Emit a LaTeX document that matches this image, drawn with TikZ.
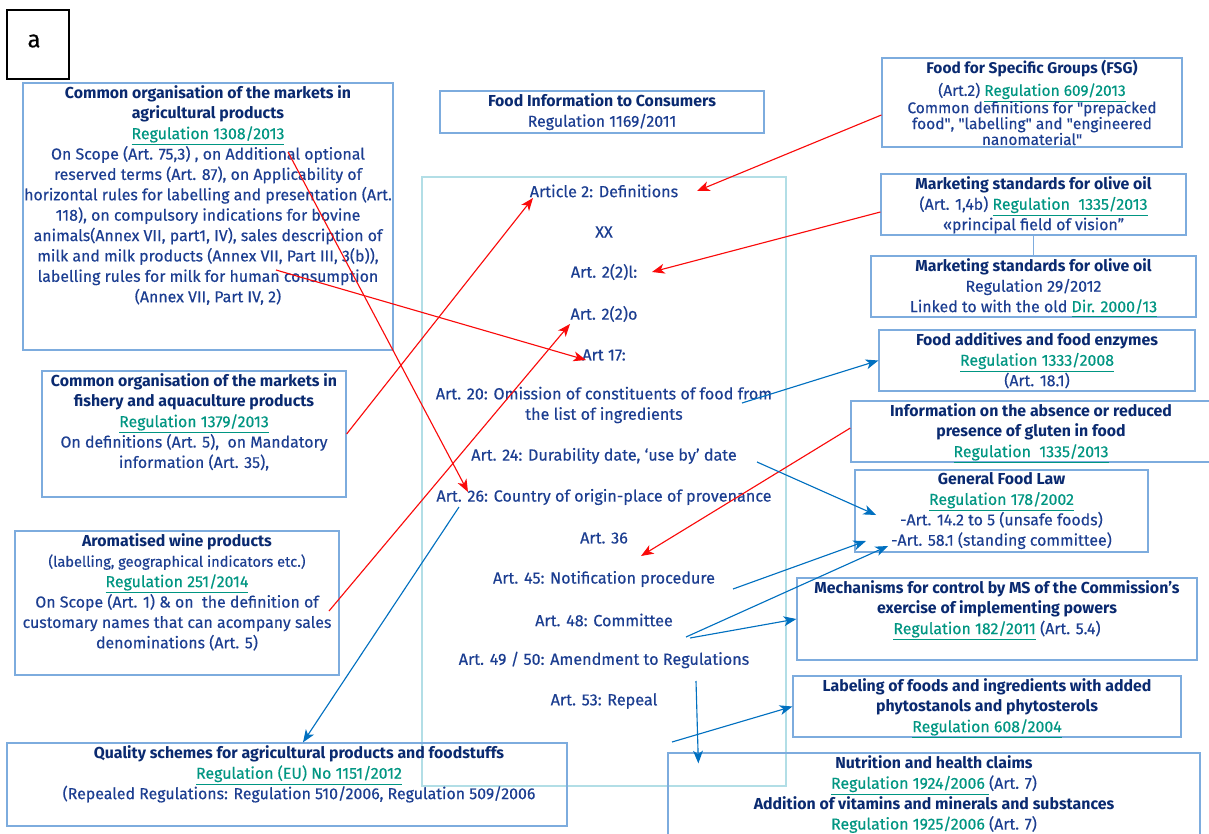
\documentclass[tikz,border=0pt]{standalone}
\usepackage{amsmath}
\usepackage{fontspec}
\setmainfont{Fira Sans}[UprightFeatures={FakeBold=0.3}]
\usetikzlibrary{positioning,fit,calc,arrows.meta}
\definecolor{textblue}{RGB}{28,62,145}
\definecolor{headblue}{RGB}{10,42,112}
\definecolor{linkteal}{RGB}{0,150,130}
\definecolor{frameblue}{RGB}{125,172,222}
\definecolor{framecyan}{RGB}{178,222,230}
\definecolor{arrowblue}{RGB}{0,112,192}
\definecolor{arrowred}{RGB}{250,10,10}
\newcommand{\boxhead}[1]{\textcolor{headblue}{\textbf{#1}}}
\newcommand{\reglink}[1]{\textcolor{linkteal}{\smash[b]{\underline{#1}}}}
\tikzset{
  regframe/.style={draw=frameblue, line width=0.9pt, inner sep=0pt, fit={#1}},
  boxtext/.style={text=textblue, align=center, inner sep=0pt, font=\fontsize{11.3}{14.5}\selectfont},
  artitem/.style={text=textblue, align=center, inner sep=1pt, font=\fontsize{11.5}{14.5}\selectfont},
  redarrow/.style={draw=arrowred, line width=0.8pt, -{Stealth[length=9pt,width=7pt,inset=2.5pt]}},
  bluearrow/.style={draw=arrowblue, line width=0.8pt, -{Stealth[length=9pt,width=7pt,inset=2.5pt]}}
}

\begin{document}
\begin{tikzpicture}[x=0.025cm, y=-0.025cm]
  \useasboundingbox[fill=white] (0,0) rectangle (1209,834);

  % panel letter
  \node[draw=black, line width=1pt, inner sep=0pt, fit={(7,10) (69,79)}] (panel) {};
  \node[font=\fontsize{17}{20}\selectfont] (panellbl) at (34,41) {a};

  % central regulation and its articles
  \node[regframe={(440,91) (764,133)}] (fic) {};
  \node[boxtext, below=2pt of fic.north] (fictxt) {\boxhead{Food Information to Consumers}\\ Regulation 1169/2011};
  \node[draw=framecyan, line width=0.9pt, inner sep=0pt, fit={(422,177) (786,786)}] (articles) {};

  \node[artitem] (art2) at (604,191) {Article 2: Definitions};
  \node[artitem] (xx) at (604,232) {XX};
  \node[artitem] (art22l) at (604,272) {Art. 2(2)l:};
  \node[artitem] (art22o) at (604,314) {Art. 2(2)o};
  \node[artitem] (art17) at (604,355) {Art 17:};
  \node[artitem] (art20) at (604,405) {Art. 20: Omission of constituents of food from\\ the list of ingredients};
  \node[artitem] (art24) at (604,456) {Art. 24: Durability date, ‘use by’ date};
  \node[artitem] (art26) at (604,497) {Art. 26: Country of origin-place of provenance};
  \node[artitem] (art36) at (604,538) {Art. 36};
  \node[artitem] (art45) at (604,579) {Art. 45: Notification procedure};
  \node[artitem] (art48) at (604,620) {Art. 48: Committee};
  \node[artitem] (art4950) at (604,660) {Art. 49 / 50: Amendment to Regulations};
  \node[artitem] (art53) at (604,701) {Art. 53: Repeal};

  % left column
  \node[regframe={(23,83) (393,350)}] (agri) {};
  \node[boxtext, below=2pt of agri.north] (agritxt) {\boxhead{Common organisation of the markets in}\\
    \boxhead{agricultural products}\\ \reglink{Regulation 1308/2013}\\
    On Scope (Art. 75,3) , on Additional optional\\ reserved terms (Art. 87), on Applicability of\\
    horizontal rules for labelling and presentation (Art.\\ 118), on compulsory indications for bovine\\
    animals(Annex VII, part1, IV), sales description of\\ milk and milk products (Annex VII, Part III, 3(b)),\\
    labelling rules for milk for human consumption\\ (Annex VII, Part IV, 2)};

  \node[regframe={(42,371) (346,497)}] (fishery) {};
  \node[boxtext, below=2pt of fishery.north] (fisherytxt) {\boxhead{Common organisation of the markets in}\\
    \boxhead{fishery and aquaculture products}\\ \reglink{Regulation 1379/2013}\\
    On definitions (Art. 5),\ \ on Mandatory\\ information (Art. 35),};

  \node[regframe={(15,531) (339,675)}] (wine) {};
  \node[boxtext, below=2pt of wine.north] (winetxt) {\boxhead{Aromatised wine products}\\
    {\fontsize{10.4}{14.5}\selectfont(labelling, geographical indicators etc.)}\\ \reglink{Regulation 251/2014}\\
    On Scope (Art. 1) \& on\ \ the definition of\\ customary names that can acompany sales\\ denominations (Art. 5)};

  \node[regframe={(7,743) (567,826)}] (quality) {};
  \node[boxtext, below=2pt of quality.north, xshift=0.3cm] (qualitytxt) {\boxhead{Quality schemes for agricultural products and foodstuffs}\\
    \reglink{Regulation (EU) No 1151/2012}\\ (Repealed Regulations: Regulation 510/2006, Regulation 509/2006};

  % right column
  \node[regframe={(882,58) (1182,147)}] (fsg) {};
  \node[boxtext, below=2pt of fsg.north, font=\fontsize{11}{11.3}\selectfont] (fsgtxt) {\boxhead{Food for Specific Groups (FSG)}\\[3pt]
    (Art.2) \reglink{Regulation 609/2013}\\[1pt] Common definitions for \textquotedbl prepacked\\
    food\textquotedbl, \textquotedbl labelling\textquotedbl{} and \textquotedbl engineered\\
    nanomaterial\textquotedbl};

  \node[regframe={(881,174) (1186,235)}] (olive1) {};
  \node[boxtext, below=2pt of olive1.north] (olive1txt) {\boxhead{Marketing standards for olive oil}\\
    (Art. 1,4b) \reglink{Regulation\ \ 1335/2013}\\ «principal field of vision”};

  \node[regframe={(871,256) (1196,317)}] (olive2) {};
  \node[boxtext, below=2pt of olive2.north] (olive2txt) {\boxhead{Marketing standards for olive oil}\\
    Regulation 29/2012\\ Linked to with the old \reglink{Dir. 2000/13}};
  \draw[frameblue, line width=0.6pt] (olive1.south) -- (olive2.north);

  \node[regframe={(879,330) (1195,391)}] (additives) {};
  \node[boxtext, below=2pt of additives.north] (additivestxt) {\boxhead{Food additives and food enzymes}\\
    \reglink{Regulation 1333/2008}\\ (Art. 18.1)};

  \node[regframe={(851,401) (1211,462)}] (gluten) {};
  \node[boxtext, below=2pt of gluten.north] (glutentxt) {\boxhead{Information on the absence or reduced}\\
    \boxhead{presence of gluten in food}\\ \reglink{Regulation\ \ 1335/2013}};

  \node[regframe={(855,470) (1148,552)}] (gfl) {};
  \node[boxtext, below=2pt of gfl.north] (gfltxt) {\boxhead{General Food Law}\\ \reglink{Regulation 178/2002}\\
    -Art. 14.2 to 5 (unsafe foods)\\ -Art. 58.1 (standing committee)};

  \node[regframe={(797,578) (1197,660)}] (mech) {};
  \node[boxtext, below=2pt of mech.north] (mechtxt) {\boxhead{Mechanisms for control by MS of the Commission’s}\\
    \boxhead{exercise of implementing powers}\\ \reglink{Regulation 182/2011} (Art. 5.4)};

  \node[regframe={(793,676) (1181,737)}] (label) {};
  \node[boxtext, below=2pt of label.north] (labeltxt) {\boxhead{Labeling of foods and ingredients with added}\\
    \boxhead{phytostanols and phytosterols}\\ \reglink{Regulation 608/2004}};

  \node[regframe={(668,753) (1200,850)}] (nutri) {};
  \node[boxtext, below=2pt of nutri.north] (nutritxt) {\boxhead{Nutrition and health claims}\\
    \reglink{Regulation 1924/2006 }(Art. 7)\\ \boxhead{Addition of vitamins and minerals and substances}\\
    \reglink{Regulation 1925/2006 }(Art. 7)};

  % free ends of the connectors
  \coordinate (defs) at (697,191);
  \coordinate (pfv) at (652,272);
  \coordinate (agriA) at (288,152);
  \coordinate (origin) at (468,492);
  \coordinate (agriB) at (276,270);
  \coordinate (a17) at (586,360);
  \coordinate (a2def) at (533,198);
  \coordinate (wineA) at (329,611);
  \coordinate (a22o) at (570,324);
  \coordinate (a36) at (641,556);
  \coordinate (a20) at (742,403);
  \coordinate (a24) at (757,462);
  \coordinate (gflA) at (876,515);
  \coordinate (a45) at (733,589);
  \coordinate (gflB) at (866,541);
  \coordinate (a48) at (686,637);
  \coordinate (gflC) at (888,546);
  \coordinate (a48b) at (690,638);
  \coordinate (a4950) at (696,681);
  \coordinate (a53) at (672,742);
  \coordinate (a26) at (459,507);

  % red connectors
  \draw[redarrow] ($(fsg.west)+(0,12.5)$) -- (defs);
  \draw[redarrow] ($(olive1.west)+(0,7.5)$) -- (pfv);
  \draw[redarrow] (agriA) -- (origin);
  \draw[redarrow] (agriB) -- (a17);
  \draw[redarrow] (fishery.east) -- (a2def);
  \draw[redarrow] (wineA) -- (a22o);
  \draw[redarrow] ($(gluten.west)+(0,-3.5)$) -- (a36);

  % blue connectors
  \draw[bluearrow] (a20) -- (additives.west);
  \draw[bluearrow] (a24) -- (gflA);
  \draw[bluearrow] (a45) -- (gflB);
  \draw[bluearrow] (a48) -- (gflC);
  \draw[bluearrow] (a48b) -- (mech.west);
  \draw[bluearrow] (a4950) -- ($(nutri.north west)+(31,11)$);
  \draw[bluearrow] (a53) -- (label.west);
  \draw[bluearrow] (a26) -- ($(quality.north)+(16,0)$);
\end{tikzpicture}
\end{document}
